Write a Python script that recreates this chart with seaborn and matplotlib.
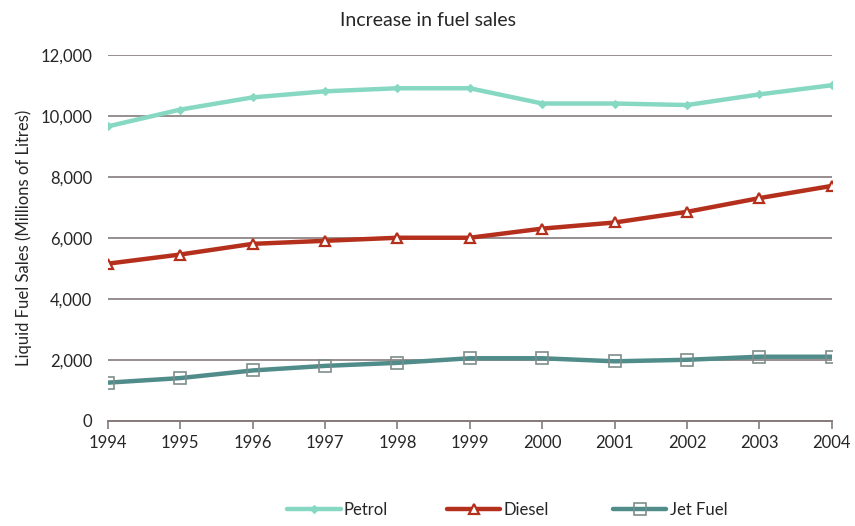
import matplotlib
matplotlib.use("Agg")
import matplotlib.pyplot as plt
import seaborn as sns
import pandas as pd
from matplotlib.ticker import FuncFormatter
from matplotlib.lines import Line2D

years = [1994, 1995, 1996, 1997, 1998, 1999, 2000, 2001, 2002, 2003, 2004]
petrol = [9650, 10200, 10600, 10800, 10900, 10900, 10400, 10400, 10350, 10700, 11000]
diesel = [5150, 5450, 5800, 5900, 6000, 6000, 6300, 6500, 6850, 7300, 7700]
jet_fuel = [1250, 1400, 1650, 1800, 1900, 2050, 2050, 1950, 2000, 2100, 2100]

series_names = ["Petrol", "Diesel", "Jet Fuel"]
colors = {"Petrol": "#86d8c2", "Diesel": "#b5301c", "Jet Fuel": "#4f8c8a"}
markers = {"Petrol": "D", "Diesel": "^", "Jet Fuel": "s"}

df = pd.DataFrame({"Year": years, "Petrol": petrol, "Diesel": diesel, "Jet Fuel": jet_fuel})
long = df.melt(id_vars="Year", var_name="Fuel", value_name="Sales")

sns.set_theme(style="white")
plt.rcParams["font.family"] = ["Lato", "DejaVu Sans"]

fig = plt.figure(figsize=(8.55, 5.26), dpi=100)
ax = fig.add_axes([0.126, 0.2, 0.847, 0.696])

ax.yaxis.grid(True, color="#857b7b", linewidth=1.2)
ax.set_axisbelow(True)

sns.lineplot(data=long, x="Year", y="Sales", hue="Fuel", hue_order=series_names,
             palette=colors, style="Fuel", markers=markers, dashes=False,
             linewidth=3.2, markersize=7, ax=ax, legend=False)

# marker styling per series
for line, name in zip(ax.lines, series_names):
    if name == "Petrol":
        line.set_markerfacecolor(colors[name])
        line.set_markeredgecolor(colors[name])
        line.set_markersize(4.5)
    elif name == "Diesel":
        line.set_markerfacecolor("white")
        line.set_markeredgecolor(colors[name])
        line.set_markeredgewidth(1.6)
        line.set_markersize(7)
    else:
        line.set_markerfacecolor("none")
        line.set_markeredgecolor("#7f8d8b")
        line.set_markeredgewidth(1.2)
        line.set_markersize(8)

ax.set_xlim(1994, 2004)
ax.set_ylim(0, 12000)
ax.set_xticks(years)
ax.set_xticklabels([str(y) for y in years], fontsize=12)
ax.set_yticks(range(0, 12001, 2000))
ax.yaxis.set_major_formatter(FuncFormatter(lambda v, p: f"{int(v):,}"))
ax.tick_params(axis="y", labelsize=12, length=0, pad=11)
ax.tick_params(axis="x", bottom=True, length=6, width=1.2, color="#857b7b", pad=4)

for side in ["top", "right", "left"]:
    ax.spines[side].set_visible(False)
ax.spines["bottom"].set_color("#857b7b")
ax.spines["bottom"].set_linewidth(1.4)

ax.set_xlabel("")
ax.set_ylabel("Liquid Fuel Sales (Millions of Litres)", fontsize=12, labelpad=6)
fig.suptitle("Increase in fuel sales", fontsize=14, y=0.978)

# one legend entry per series, evenly spaced along the bottom
legend_x = [0.336, 0.523, 0.717]
for line, name, lx in zip(ax.lines, series_names, legend_x):
    handle = Line2D([0], [0], color=colors[name], linewidth=3.2,
                    marker=line.get_marker(),
                    markerfacecolor=line.get_markerfacecolor(),
                    markeredgecolor=line.get_markeredgecolor(),
                    markeredgewidth=line.get_markeredgewidth(),
                    markersize=line.get_markersize())
    leg = fig.legend([handle], [name], loc="center left", frameon=False,
                     fontsize=12, bbox_to_anchor=(lx, 0.03), handlelength=3.2,
                     handletextpad=0.2, borderpad=0, borderaxespad=0)

fig.savefig("out.png", dpi=100, facecolor="white")
